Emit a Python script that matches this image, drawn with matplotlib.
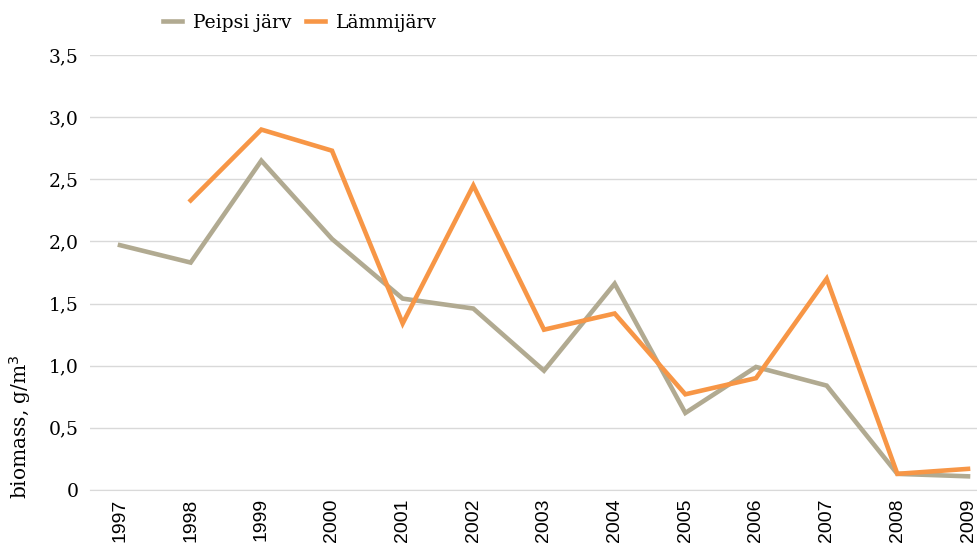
import matplotlib.pyplot as plt

years = ['1997', '1998', '1999', '2000', '2001', '2002', '2003',
         '2004', '2005', '2006', '2007', '2008', '2009']
peipsi = [1.97, 1.83, 2.65, 2.02, 1.54, 1.46, 0.96, 1.66, 0.62, 0.99, 0.84, 0.13, 0.11]
lammi = [None, 2.33, 2.90, 2.73, 1.34, 2.45, 1.29, 1.42, 0.77, 0.90, 1.70, 0.13, 0.17]
yticks = [0, 0.5, 1.0, 1.5, 2.0, 2.5, 3.0, 3.5]
ylabels = ['0', '0,5', '1,0', '1,5', '2,0', '2,5', '3,0', '3,5']

serif = ['DejaVu Serif']

fig = plt.figure(figsize=(9.77, 5.44), dpi=100)
ax = fig.add_axes([90 / 977, (544 - 490) / 544, (977 - 90) / 977, (490 - 55) / 544])

x = list(range(len(years)))
ax.plot(x, peipsi, color='#b1aa91', lw=3.3, label='Peipsi järv', solid_joinstyle='miter')
lx = [i for i, v in zip(x, lammi) if v is not None]
ly = [v for v in lammi if v is not None]
ax.plot(lx, ly, color='#f79646', lw=3.3, label='Lämmijärv', solid_joinstyle='miter')

ax.set_xlim(-30 / 70.67, 12 + 9 / 70.67)
ax.set_ylim(0, 3.5)
ax.set_yticks(yticks)
ax.set_yticklabels(ylabels, family=serif, fontsize=13.5)
ax.set_xticks(x)
ax.set_xticklabels(years, rotation=90, family='Liberation Sans', fontsize=14, va='top')
ax.tick_params(length=0, pad=6)
ax.tick_params(axis='y', pad=8)
ax.grid(axis='y', color='#d9d9d9', lw=1)
ax.set_axisbelow(True)
for s in ['top', 'right', 'left']:
    ax.spines[s].set_visible(False)
ax.spines['bottom'].set_color('#d9d9d9')

fig.text(20 / 977, 1 - 427 / 544, 'biomass, g/m$^3$', rotation=90, ha='center', va='center',
         family=serif, fontsize=14.5)

leg = fig.legend(loc='center', bbox_to_anchor=(300 / 977, 1 - 23 / 544), ncol=2, frameon=False,
                 prop={'family': serif, 'size': 13.5}, handlelength=1.0, columnspacing=0.8,
                 handletextpad=0.6)

fig.savefig('out.png', dpi=100)
